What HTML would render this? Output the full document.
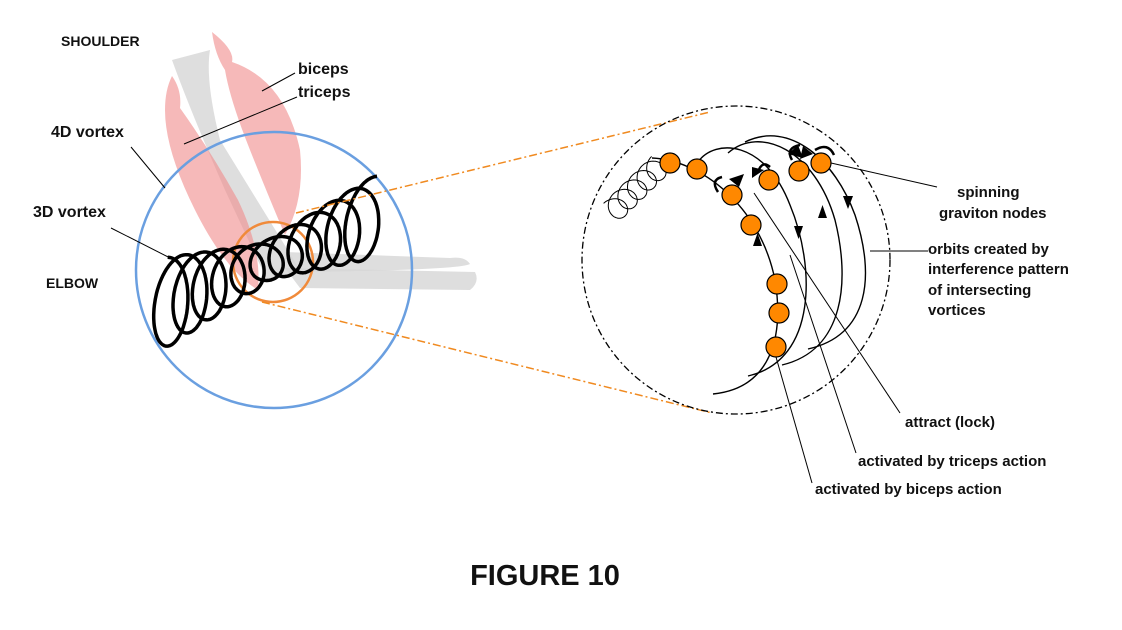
<!DOCTYPE html>
<html><head><meta charset="utf-8"><style>
body{margin:0;background:#fff}
svg{display:block}
text{font-family:"Liberation Sans",Arial,sans-serif;font-weight:bold;fill:#111}
</style></head><body>
<svg id="s" width="1122" height="630" viewBox="0 0 1122 630" xmlns="http://www.w3.org/2000/svg">
<path d="M172,60 L210,50 Q205,80 220,140 L300,270 L268,282 L225,190 Q190,110 172,60 Z" fill="#d6d6d6" opacity="0.8"/>
<path d="M285,252 L450,258 Q465,256 470,264 Q460,270 300,272 Z" fill="#d6d6d6" opacity="0.8"/>
<path d="M285,268 L475,272 Q480,282 470,290 L300,288 Z" fill="#d6d6d6" opacity="0.8"/>
<path d="M212,32 Q235,50 232,62 Q285,80 300,150 Q305,200 285,235 Q270,200 250,150 Q230,100 225,70 Q215,55 212,32 Z" fill="#f08a8a" opacity="0.6"/>
<path d="M172,76 Q182,90 180,108 Q210,150 238,200 Q262,250 258,290 Q225,270 195,210 Q165,150 165,110 Q165,90 172,76 Z" fill="#f08a8a" opacity="0.6"/>
<circle cx="274" cy="270" r="138" fill="none" stroke="#6a9fe0" stroke-width="2.5"/>
<circle cx="273" cy="262" r="40" fill="none" stroke="#f08a3a" stroke-width="2.5"/>
<path id="sp" fill="none" stroke="#000" stroke-width="3.5"/>
<line x1="296" y1="213" x2="710" y2="112" stroke="#f08a20" stroke-width="1.5" stroke-dasharray="8,3,2,3"/>
<line x1="262" y1="302" x2="712" y2="413" stroke="#f08a20" stroke-width="1.5" stroke-dasharray="8,3,2,3"/>
<text x="61" y="46" font-size="14">SHOULDER</text>
<text x="51" y="137" font-size="16">4D vortex</text>
<text x="33" y="217" font-size="16">3D vortex</text>
<text x="46" y="288" font-size="14">ELBOW</text>
<text x="298" y="74" font-size="16">biceps</text>
<text x="298" y="97" font-size="16">triceps</text>
<g stroke="#000" stroke-width="1">
<line x1="131" y1="147" x2="165" y2="188"/>
<line x1="111" y1="228" x2="180" y2="263"/>
<line x1="262" y1="91" x2="295" y2="73"/>
<line x1="184" y1="144" x2="297" y2="97"/>
</g>
<circle cx="736" cy="260" r="154" fill="none" stroke="#000" stroke-width="1.3" stroke-dasharray="7,3,2,3"/>
<path id="sp2" fill="none" stroke="#000" stroke-width="1"/>
<g fill="none" stroke="#000" stroke-width="1.4">
<path d="M652,158 C700,160 760,205 775,280 C784,335 772,388 713,394"/>
<path d="M698,162 C715,138 765,140 790,205 C815,265 818,360 748,376"/>
<path d="M728,153 C760,125 815,150 835,220 C850,280 845,350 782,365"/>
<path d="M745,142 C790,120 835,160 855,215 C875,275 870,335 808,349"/>
</g>
<g fill="#000">
<path d="M794,226 l9,0 l-4.5,13 z"/><path d="M818,218 l9,0 l-4.5,-13 z"/>
<path d="M843,196 l10,0 l-5,13 z"/><path d="M753,246 l9,0 l-4.5,-13 z"/>
<path d="M739,187 l-10,-8 l15,-5 z"/><path d="M752,178 l0,-11 l12,3 z"/>
<path d="M788,154 l10,-9 l5,13 z"/><path d="M813,154 l-10,-8 l-3,13 z"/>
</g>
<g fill="none" stroke="#000" stroke-width="2.5">
<path d="M718,192 Q710,180 722,177"/><path d="M758,172 Q762,160 770,167"/>
<path d="M792,160 Q785,148 800,145"/><path d="M815,150 Q828,142 834,155"/>
</g>
<g fill="#ff8800" stroke="#000" stroke-width="1.2">
<circle cx="670" cy="163" r="10"/><circle cx="697" cy="169" r="10"/>
<circle cx="732" cy="195" r="10"/><circle cx="751" cy="225" r="10"/>
<circle cx="769" cy="180" r="10"/><circle cx="799" cy="171" r="10"/>
<circle cx="821" cy="163" r="10"/><circle cx="777" cy="284" r="10"/>
<circle cx="779" cy="313" r="10"/><circle cx="776" cy="347" r="10"/>
</g>
<g stroke="#000" stroke-width="1">
<line x1="831" y1="163" x2="937" y2="187"/>
<line x1="870" y1="251" x2="928" y2="251"/>
<line x1="754" y1="193" x2="900" y2="413"/>
<line x1="790" y1="255" x2="856" y2="453"/>
<line x1="776" y1="357" x2="812" y2="483"/>
</g>
<g font-size="15">
<text x="957" y="197">spinning</text>
<text x="939" y="218">graviton nodes</text>
<text x="928" y="254">orbits created by</text>
<text x="928" y="274">interference pattern</text>
<text x="928" y="295">of intersecting</text>
<text x="928" y="315">vortices</text>
<text x="905" y="427">attract (lock)</text>
<text x="858" y="466">activated by triceps action</text>
<text x="815" y="494">activated by biceps action</text>
</g>
<text x="545" y="585" font-size="29" text-anchor="middle">FIGURE 10</text>
</svg>
<script>
function helix(ax,ay,bx,by,N,ampF,b,steps,px,py,qx,qy){
 var dx=bx-ax,dy=by-ay,L=Math.hypot(dx,dy),ux=dx/L,uy=dy/L;
 if(px===undefined){px=uy;py=-ux;}
 if(qx===undefined){qx=ux;qy=uy;}
 var pl=Math.hypot(px,py);px/=pl;py/=pl;
 var d="";
 for(var i=0;i<=steps;i++){var t=i/steps,th=t*N*2*Math.PI,a=ampF(t);
  var x=ax+dx*t+px*a*Math.cos(th)+qx*b*Math.sin(th);
  var y=ay+dy*t+py*a*Math.cos(th)+qy*b*Math.sin(th);
  d+=(i?"L":"M")+x.toFixed(1)+","+y.toFixed(1);}
 return d;}
document.getElementById("sp").setAttribute("d",helix(162,305,372,218,11,function(t){return t<0.5?48-58*t:19+(t-0.5)*46;},21,1600,0.12,-1,1,0));
document.getElementById("sp2").setAttribute("d",helix(612,212,660,165,5,function(t){return 12;},12,500));
</script>
</body></html>
